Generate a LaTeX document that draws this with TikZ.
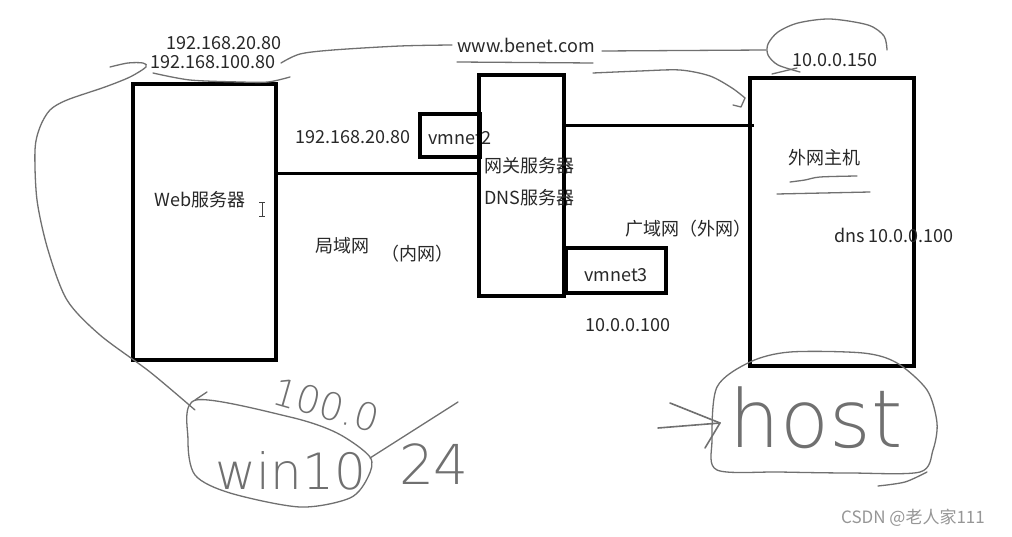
\documentclass[tikz,border=0pt]{standalone}
\usepackage{fontspec}
\setmainfont{Noto Sans CJK SC}
\newfontfamily\handfont{DejaVu Sans ExtraLight}
\definecolor{handgray}{RGB}{112,112,112}
\definecolor{txt}{RGB}{40,40,40}
\definecolor{wm}{RGB}{150,150,150}
\begin{document}
\begin{tikzpicture}[x=1pt,y=-1pt,
  box/.style={draw=black, line width=3.2pt, inner sep=0pt, fill=none},
  link/.style={draw=black, line width=3pt},
  lbl/.style={font=\fontsize{18}{20}\selectfont, text=txt, inner sep=0pt},
  hand/.style={draw=handgray, line width=1.3pt, line cap=round, line join=round},
  hw/.style={text=handgray, inner sep=0pt}]
\useasboundingbox[fill=white] (0,0) rectangle (1012,537);

% ---- labels drawn under the boxes ----
\node[lbl] (vm2lbl) at (460,138) {vmnet2};

% ---- boxes ----
\node[box, minimum width=143pt, minimum height=276pt] (web) at (204.5,222) {};
\node[box, minimum width=85pt, minimum height=221pt] (gw) at (521.5,185.5) {};
\node[box, minimum width=60pt, minimum height=43pt] (vm2) at (450,135.5) {};
\node[box, minimum width=100pt, minimum height=45pt] (vm3) at (616,270.5) {};
\node[box, minimum width=164pt, minimum height=288pt] (host) at (832,222) {};

% ---- connectors ----
\coordinate (lanY) at (0,174);
\coordinate (wanY) at (0,126);
\draw[link] (web.east |- lanY) -- (gw.west |- lanY);
\draw[link] (gw.east |- wanY) -- ([xshift=6pt]host.west |- wanY);

% ---- texts ----
\node[lbl] (ip1) at (224,43) {192.168.20.80};
\node[lbl] (ip2) at (213,62) {192.168.100.80};
\node[lbl] (dom) at (526,45) {www.benet.com};
\node[lbl] (ip3) at (835,60) {10.0.0.150};
\node[lbl] (ip4) at (353,137) {192.168.20.80};
\node[lbl, anchor=west] (gwl1) at (484,166) {网关服务器};
\node[lbl, anchor=west] (gwl2) at (484,198) {DNS服务器};
\node[lbl] (webl) at (200,200) {Web服务器};
\node[lbl] (lan1) at (342,246) {局域网};
\node[lbl] (lan2) at (417,254) {（内网）};
\node[lbl] (wan) at (688,229) {广域网（外网）};
\node[lbl] (vm3l) at (616,275) {vmnet3};
\node[lbl] (ip5) at (628,325) {10.0.0.100};
\node[lbl] (hostl) at (824,158) {外网主机};
\node[lbl] (dnsl) at (894,235) {dns 10.0.0.100};
\node[lbl, text=wm, font=\fontsize{17}{19}\selectfont] (mark) at (913,518) {CSDN @老人家111};

% ---- text cursor ----
\draw[black!75, line width=1pt] (262,203) -- (262,217)
  (259,203) -- (265,203) (259,217) -- (265,217);

% ---- hand-drawn strokes ----
\draw[hand] plot[smooth] coordinates {(110,67) (128,63) (143,63) (146,67) (130,77) (105,87) (67,100) (50,110) (40,127) (35,150) (37,200) (48,250) (67,300) (100,335) (150,372) (195,410)};
\draw[hand] plot[smooth cycle] coordinates {(196,400) (290,417) (337,433) (370,457) (368,477) (350,498) (300,507) (230,493) (195,475) (188,440)};
\draw[hand] (195,400) -- (207,392);
\draw[hand] plot[smooth] coordinates {(281,63) (300,54) (333,50) (400,46) (452,45)};
\draw[hand] plot[smooth] coordinates {(153,73) (190,80) (240,82) (268,82) (290,77)};
\draw[hand] (457,62) -- (593,63);
\draw[hand] (602,51) -- (766,50);
\draw[hand] plot[smooth] coordinates {(887,50) (884,36) (868,25) (830,19) (798,23) (778,32) (768,44) (768,55) (778,65) (800,72)};
\draw[hand] (772,74) -- (797,68);
\draw[hand] plot[smooth] coordinates {(593,73) (640,71) (680,70) (710,76) (732,88) (745,98)};
\draw[hand] (745,98) -- (741,107) -- (733,105);
\draw[hand] plot[smooth] coordinates {(790,182) (805,180) (820,177) (857,176)};
\draw[hand] (777,194) -- (870,192);
\draw[hand] plot[smooth cycle] coordinates {(717,387) (750,362) (790,352) (863,353) (897,363) (927,390) (937,423) (933,450) (920,472) (850,473) (780,472) (717,470) (712,440)};
\draw[hand] plot[smooth] coordinates {(878,486) (905,482) (927,472)};
\draw[hand, line width=1.6pt] (658,428) -- (720,423);
\draw[hand, line width=1.6pt] (670,403) -- (720,423) -- (705,448);
\draw[hand] (370,458) -- (458,402);

% ---- handwritten texts ----
\node[hw, anchor=base west, rotate=-16, font=\handfont\fontsize{38}{38}\selectfont] (hw1) at (270,403) {100.0};
\node[hw, font=\handfont\fontsize{55}{55}\selectfont] (hw2) at (434,464) {24};
\node[hw, font=\handfont\fontsize{50}{50}\selectfont] (hw3) at (291,471) {win10};
\node[hw, anchor=base, font=\handfont\fontsize{80}{80}\selectfont] (hw4) at (816,447) {host};
\end{tikzpicture}
\end{document}
